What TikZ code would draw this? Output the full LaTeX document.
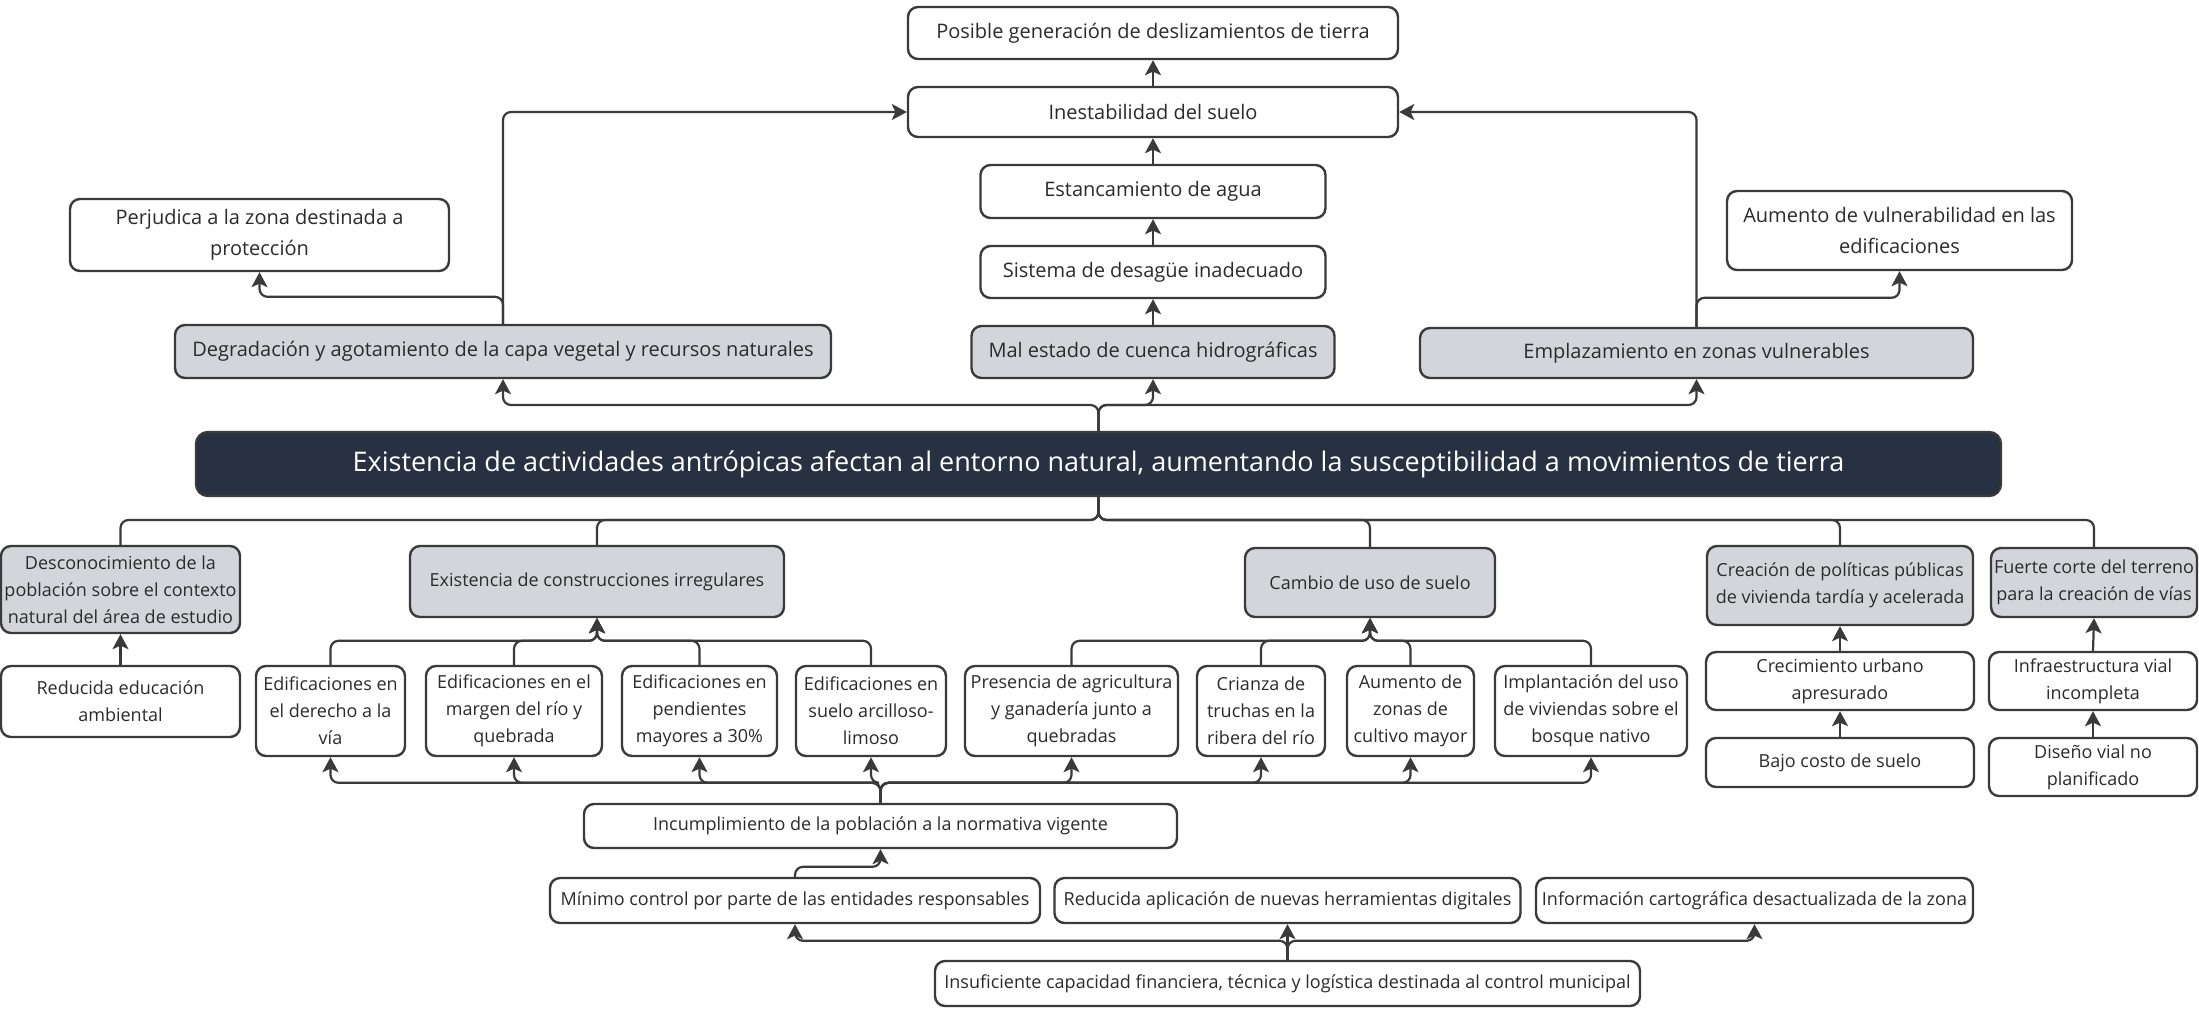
\documentclass[tikz,border=0pt]{standalone}
\usepackage{fontspec}
\setmainfont{Open Sans}
\usetikzlibrary{arrows.meta}
\definecolor{lc}{HTML}{3A3A3A}
\definecolor{gr}{HTML}{D3D5DB}
\definecolor{nv}{HTML}{273142}
\definecolor{tx}{HTML}{2B2B2B}
\begin{document}
\begin{tikzpicture}[x=0.5pt,y=-0.5pt,
  box/.style={draw=lc, line width=1.2pt, rounded corners=5pt, fill=white, align=center,
    inner sep=0pt, text=tx, font=\fontsize{9}{13.5}\selectfont},
  tbox/.style={box, font=\fontsize{10}{15.5}\selectfont},
  gbox/.style={box, fill=gr},
  gtbox/.style={tbox, fill=gr},
  mainbox/.style={draw=lc, line width=1.2pt, rounded corners=6pt, fill=nv, text=white,
    inner sep=0pt, font=\fontsize{13.5}{16}\selectfont},
  arr/.style={draw=lc, line width=1.1pt, rounded corners=4pt, -{Stealth[length=7.5pt,width=8pt,inset=1.8pt]}},
  plain/.style={draw=lc, line width=1.1pt, rounded corners=4pt}]
\useasboundingbox (0,0) rectangle (2199,1008);

% ---- top part
\node[tbox, minimum width=245pt, minimum height=26pt] (pos) at (1153,33) {Posible generación de deslizamientos de tierra};
\node[tbox, minimum width=245pt, minimum height=25pt] (ine) at (1153,112) {Inestabilidad del suelo};
\node[tbox, minimum width=172.5pt, minimum height=26.5pt] (est) at (1153,191.5) {Estancamiento de agua};
\node[tbox, minimum width=172.5pt, minimum height=26pt] (sis) at (1153,272) {Sistema de desagüe inadecuado};
\node[gtbox, minimum width=181.5pt, minimum height=26pt] (mal) at (1153,352) {Mal estado de cuenca hidrográficas};
\node[gtbox, minimum width=328pt, minimum height=26.5pt] (deg) at (503,351.5) {Degradación y agotamiento de la capa vegetal y recursos naturales};
\node[tbox, minimum width=189.5pt, minimum height=36pt] (per) at (259.5,235) {Perjudica a la zona destinada a\\protección};
\node[gtbox, minimum width=276.5pt, minimum height=25pt] (emp) at (1696.5,353) {Emplazamiento en zonas vulnerables};
\node[tbox, minimum width=172.5pt, minimum height=39.5pt] (aum) at (1899.5,230.5) {Aumento de vulnerabilidad en las\\edificaciones};

% ---- main
\node[mainbox, minimum width=902.5pt, minimum height=32pt] (main) at (1098.5,464) {Existencia de actividades antrópicas afectan al entorno natural, aumentando la susceptibilidad a movimientos de tierra};

% ---- second row
\node[gbox, minimum width=119.5pt, minimum height=43.5pt] (des) at (120.5,589.5) {Desconocimiento de la\\población sobre el contexto\\natural del área de estudio};
\node[gbox, minimum width=187pt, minimum height=35.5pt] (con) at (597,581.5) {Existencia de construcciones irregulares};
\node[gbox, minimum width=125pt, minimum height=34.5pt] (cam) at (1370,582.5) {Cambio de uso de suelo};
\node[gbox, minimum width=133pt, minimum height=39.5pt] (cre) at (1840,585.5) {Creación de políticas públicas\\de vivienda tardía y acelerada};
\node[gbox, minimum width=103pt, minimum height=34.5pt] (fue) at (2094,582.5) {Fuerte corte del terreno\\para la creación de vías};

% ---- third row
\node[box, minimum width=119.5pt, minimum height=35.5pt] (red) at (120.5,701.5) {Reducida educación\\ambiental};
\node[box, minimum width=74.5pt, minimum height=45pt] (e1) at (330.5,711) {Edificaciones en\\el derecho a la\\vía};
\node[box, minimum width=88pt, minimum height=45pt] (e2) at (514,711) {Edificaciones en el\\margen del río y\\quebrada};
\node[box, minimum width=77.5pt, minimum height=45pt] (e3) at (699.5,711) {Edificaciones en\\pendientes\\mayores a 30\%};
\node[box, minimum width=75pt, minimum height=45pt] (e4) at (871,711) {Edificaciones en\\suelo arcilloso-\\limoso};
\node[box, minimum width=106.5pt, minimum height=45pt] (c1) at (1071.5,711) {Presencia de agricultura\\y ganadería junto a\\quebradas};
\node[box, minimum width=64pt, minimum height=45pt] (c2) at (1261,711) {Crianza de\\truchas en la\\ribera del río};
\node[box, minimum width=63.5pt, minimum height=45pt] (c3) at (1410.5,711) {Aumento de\\zonas de\\cultivo mayor};
\node[box, minimum width=96pt, minimum height=45pt] (c4) at (1591,711) {Implantación del uso\\de viviendas sobre el\\bosque nativo};
\node[box, minimum width=134pt, minimum height=29pt] (cu) at (1840,681) {Crecimiento urbano\\apresurado};
\node[box, minimum width=104pt, minimum height=29pt] (iv) at (2093,681) {Infraestructura vial\\incompleta};
\node[box, minimum width=134pt, minimum height=24.5pt] (bc) at (1840,762.5) {Bajo costo de suelo};
\node[box, minimum width=104pt, minimum height=29pt] (dv) at (2093,767) {Diseño vial no\\planificado};

% ---- bottom
\node[box, minimum width=296.5pt, minimum height=22pt] (inc) at (880.5,826) {Incumplimiento de la población a la normativa vigente};
\node[box, minimum width=245pt, minimum height=22.5pt] (min) at (795,900.5) {Mínimo control por parte de las entidades responsables};
\node[box, minimum width=233pt, minimum height=22.5pt] (rap) at (1287.5,900.5) {Reducida aplicación de nuevas herramientas digitales};
\node[box, minimum width=218.5pt, minimum height=22.5pt] (inf) at (1754.5,900.5) {Información cartográfica desactualizada de la zona};
\node[box, minimum width=352.5pt, minimum height=22.5pt] (ins) at (1287.5,983.5) {Insuficiente capacidad financiera, técnica y logística destinada al control municipal};

% ---- connectors top
\coordinate (tj) at (1098.5,405);
\draw[arr] (main.north) -- (tj) -| (deg.south);
\draw[arr] (main.north) -- (tj) -| (mal.south);
\draw[arr] (main.north) -- (tj) -| (emp.south);
\draw[arr] (deg.north) |- (ine.west);
\draw[arr] (deg.north) -- ++(0,-27) -| (per.south);
\draw[arr] (emp.north) |- (ine.east);
\draw[arr] (emp.north) -- ++(0,-29) -| (aum.south);
\draw[arr] (mal.north) -- (sis.south);
\draw[arr] (sis.north) -- (est.south);
\draw[arr] (est.north) -- (ine.south);
\draw[arr] (ine.north) -- (pos.south);

% ---- connectors main to children
\coordinate (bj) at (1098.5,520);
\draw[plain] (main.south) -- (bj) -| (des.north);
\draw[plain] (main.south) -- (bj) -| (con.north);
\draw[plain] (main.south) -- (bj) -| (cam.north);
\draw[plain] (main.south) -- (bj) -| (cre.north);
\draw[plain] (main.south) -- (bj) -| (fue.north);

\draw[arr] (red.north) -- (des.south);
\foreach \n in {e1,e2,e3,e4}{\draw[arr] (\n.north) -- ++(0,-24) -| (con.south);}
\foreach \n in {c1,c2,c3,c4}{\draw[arr] (\n.north) -- ++(0,-24) -| (cam.south);}
\draw[arr] (cu.north) -- (cre.south);
\draw[arr] (bc.north) -- (cu.south);
\draw[arr] (iv.north) -- (fue.south);
\draw[arr] (dv.north) -- (iv.south);

% ---- connectors bottom
\foreach \n in {e1,e2,e3,e4,c1,c2,c3,c4}{\draw[arr] (inc.north) -- ++(0,-20) -| (\n.south);}
\draw[arr] (min.north) -- ++(0,-10) -| (inc.south);
\draw[arr] (ins.north) -- ++(0,-19) -| (min.south);
\draw[arr] (ins.north) -- (rap.south);
\draw[arr] (ins.north) -- ++(0,-19) -| (inf.south);
\end{tikzpicture}
\end{document}
